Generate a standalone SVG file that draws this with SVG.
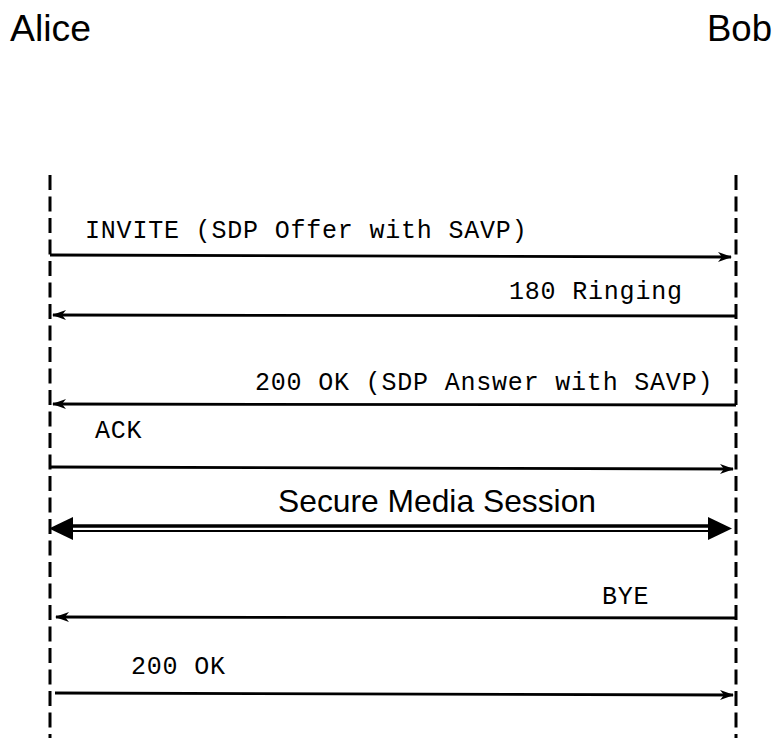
<svg xmlns="http://www.w3.org/2000/svg" width="776" height="738" viewBox="0 0 776 738">
<style>
.actor{font-family:"Liberation Sans",Arial,sans-serif;font-size:37px;fill:#000}
.msg{font-family:"Liberation Mono","Courier New",monospace;font-size:25px;letter-spacing:0.8px;fill:#000}
.big{font-family:"Liberation Sans",Arial,sans-serif;font-size:32px;fill:#000}
.life{stroke:#000;stroke-width:3;stroke-dasharray:15 6.5;fill:none}
.line{stroke:#000;stroke-width:2.8;fill:none;marker-end:url(#arr)}
</style>
<defs>
<marker id="arr" viewBox="0 0 14 10" refX="13" refY="5" markerWidth="14" markerHeight="10" markerUnits="userSpaceOnUse" orient="auto">
<path d="M0,0 L14,5 L0,10 L4,5 z" fill="#000"/>
</marker>
</defs>
<rect width="776" height="738" fill="#fff"/>
<g id="alice">
<text class="actor" x="10" y="41" textLength="81" lengthAdjust="spacingAndGlyphs">Alice</text>
<line class="life" x1="50" y1="175" x2="50" y2="738"/>
</g>
<g id="bob">
<text class="actor" x="707" y="41" textLength="65" lengthAdjust="spacingAndGlyphs">Bob</text>
<line class="life" x1="736" y1="175" x2="736" y2="738"/>
</g>
<g id="connectors">
<line class="line" x1="50" y1="255" x2="731" y2="257"/>
<line class="line" x1="736" y1="316" x2="53" y2="315"/>
<line class="line" x1="736" y1="405" x2="53" y2="404"/>
<line class="line" x1="50" y1="467" x2="733" y2="469"/>
<line x1="72" y1="526" x2="710" y2="526" stroke="#000" stroke-width="3.5"/>
<line x1="72" y1="531" x2="710" y2="531" stroke="#000" stroke-width="2"/>
<path d="M49,528.5 L73,517 L73,540 z" fill="#000"/>
<path d="M732,528.5 L708,517 L708,540 z" fill="#000"/>
<line class="line" x1="736" y1="618" x2="56" y2="617"/>
<line class="line" x1="55" y1="693" x2="733" y2="695"/>
</g>
<g id="labels">
<text class="msg" x="85" y="238">INVITE (SDP Offer with SAVP)</text>
<text class="msg" x="509" y="299">180 Ringing</text>
<text class="msg" x="255" y="390">200 OK (SDP Answer with SAVP)</text>
<text class="msg" x="95" y="438">ACK</text>
<text class="big" x="278" y="512" textLength="318" lengthAdjust="spacingAndGlyphs">Secure Media Session</text>
<text class="msg" x="602" y="604">BYE</text>
<text class="msg" x="131" y="674">200 OK</text>
</g>
</svg>
